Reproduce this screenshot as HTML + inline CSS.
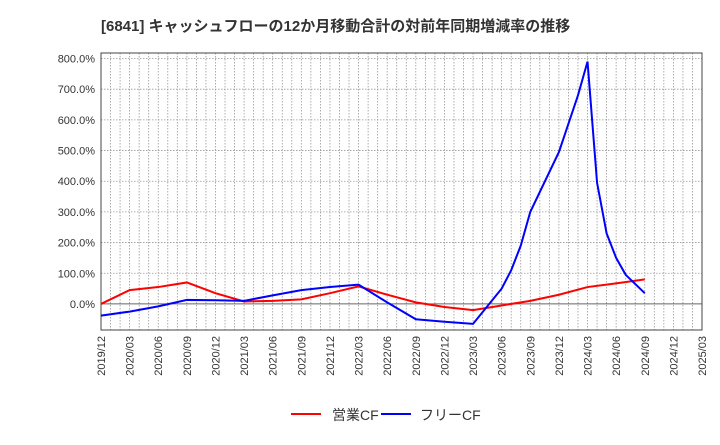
<!DOCTYPE html>
<html><head><meta charset="utf-8"><style>
body{margin:0;background:#fff;font-family:"Liberation Sans","Noto Sans CJK JP",sans-serif;}
</style></head><body>
<svg id="c" width="720" height="440" xmlns="http://www.w3.org/2000/svg" font-family="Liberation Sans, Noto Sans CJK JP, sans-serif">
<text x="101" y="31" font-size="15" font-weight="bold" fill="#333">[6841]  キャッシュフローの12か月移動合計の対前年同期増減率の推移</text>
<g id="grid"></g><g id="axes"></g><g id="series"></g>
<g>
<line x1="291" y1="414" x2="321" y2="414" stroke="#f00" stroke-width="2"/>
<text x="332" y="420" font-size="14" fill="#333">営業CF</text>
<line x1="381" y1="414" x2="411" y2="414" stroke="#00f" stroke-width="2"/>
<text x="420" y="420" font-size="14" fill="#333">フリーCF</text>
</g>
</svg>
<script>
const xTickLabels=["2019/12","2020/03","2020/06","2020/09","2020/12","2021/03","2021/06","2021/09","2021/12","2022/03","2022/06","2022/09","2022/12","2023/03","2023/06","2023/09","2023/12","2024/03","2024/06","2024/09","2024/12","2025/03"];
const yTicks=[0,100,200,300,400,500,600,700,800];
const opMonths=[0,3,6,9,12,15,18,21,24,27,30,33,36,39,42,45,48,51,54,57];
const opValues=[0,45,55,70,35,8,10,15,35,57,30,5,-10,-20,-5,10,30,55,67,80];
const fcfMonths=[0,3,6,9,12,15,18,21,24,27,30,33,36,39,42,43,44,45,48,50,51,52,53,54,55,57];
const fcfValues=[-38,-25,-8,13,12,10,28,45,55,63,5,-50,-58,-65,50,110,190,300,495,680,790,395,230,150,95,35];
const L=101,R=702,T=53,B=330,yMin=-85,yMax=818;
const xS=m=>L+(R-L)*m/63;
const yS=v=>B-(v-yMin)/(yMax-yMin)*(B-T);
const NS="http://www.w3.org/2000/svg";
function mk(t,a,p){const e=document.createElementNS(NS,t);for(const k in a)e.setAttribute(k,a[k]);p.appendChild(e);return e;}
const g=document.getElementById('grid'),ax=document.getElementById('axes'),s=document.getElementById('series');
for(let m=1;m<63;m++){
 const l=mk('line',{x1:xS(m),x2:xS(m),y1:T,y2:B,stroke:'#999','stroke-dasharray':'1.5,1.5','stroke-width':0.8},g);
 
 
}
yTicks.forEach(v=>{
 const l=mk('line',{x1:L,x2:R,y1:yS(v),y2:yS(v),stroke:v===0?'#666':'#999','stroke-dasharray':v===0?'':'1.5,1.5','stroke-width':v===0?1:0.8},g);
 
 
 const t=mk('text',{x:L-6,y:yS(v)+4,'text-anchor':'end','font-size':11,fill:'#333'},ax);
 
 
 t.textContent=v.toFixed(1)+'%';
});
xTickLabels.forEach((lab,i)=>{
 const x=xS(i*3);
 const t=mk('text',{x:0,y:0,transform:`translate(${x+4},${B+6}) rotate(-90)`,'text-anchor':'end','font-size':11,fill:'#333'},ax);
 
 
 t.textContent=lab;
});
const fr=mk('rect',{x:L,y:T,width:R-L,height:B-T,fill:'none',stroke:'#444','stroke-width':1},ax);


const p1=mk('polyline',{points:opMonths.map((m,i)=>xS(m)+','+yS(opValues[i])).join(' '),fill:'none',stroke:'#f00','stroke-width':2},s);


const p2=mk('polyline',{points:fcfMonths.map((m,i)=>xS(m)+','+yS(fcfValues[i])).join(' '),fill:'none',stroke:'#00f','stroke-width':2},s);


</script>
</body></html>
